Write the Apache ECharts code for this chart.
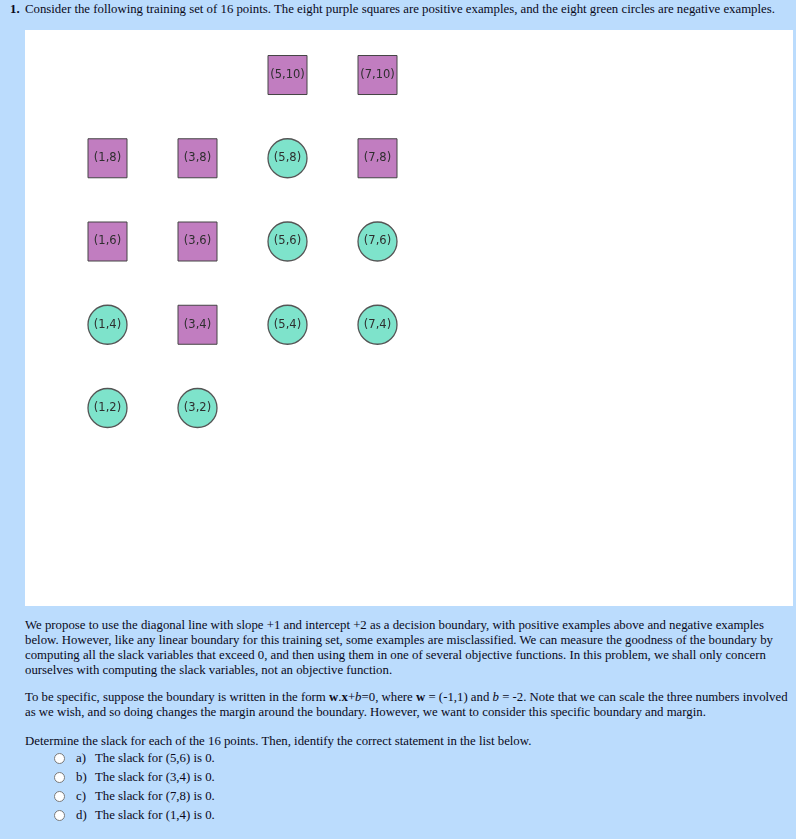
<!DOCTYPE html>
<html>
<head>
<meta charset="utf-8">
<script src="https://cdn.jsdelivr.net/npm/echarts@6/dist/echarts.min.js"></script>
<style>
  html, body { margin: 0; padding: 0; }
  body { width: 796px; height: 839px; background: #bbdcfd; font-family: "Liberation Serif", serif; font-size: 12.8px; color: #0a0a1a; position: relative; overflow: hidden; }
  .blk { position: absolute; left: 25px; line-height: 15px; white-space: nowrap; }
  #panel { position: absolute; left: 25px; top: 30px; width: 768px; height: 576px; background: #fff; }
  .opt { position: absolute; left: 0; line-height: 15px; white-space: nowrap; }
  .radio { position: absolute; width: 9px; height: 9px; border: 1px solid #7a7a7a; border-radius: 50%; background: #fff; }
</style>
</head>
<body>
<div class="blk" style="left:10px; top:2px;"><b>1.</b></div>
<div class="blk" style="top:2px;">Consider the following training set of 16 points. The eight purple squares are positive examples, and the eight green circles are negative examples.</div>
<div id="panel"></div>
<div class="blk" style="top:618px;">We propose to use the diagonal line with slope +1 and intercept +2 as a decision boundary, with positive examples above and negative examples<br>below. However, like any linear boundary for this training set, some examples are misclassified. We can measure the goodness of the boundary by<br>computing all the slack variables that exceed 0, and then using them in one of several objective functions. In this problem, we shall only concern<br>ourselves with computing the slack variables, not an objective function.</div>
<div class="blk" style="top:690px;">To be specific, suppose the boundary is written in the form <b>w</b>.<b>x</b>+<i>b</i>=0, where <b>w</b> = (-1,1) and <i>b</i> = -2. Note that we can scale the three numbers involved<br>as we wish, and so doing changes the margin around the boundary. However, we want to consider this specific boundary and margin.</div>
<div class="blk" style="top:734px;">Determine the slack for each of the 16 points. Then, identify the correct statement in the list below.</div>
<div id="opts"></div>
<script>
const positivePoints = [[5,10],[7,10],[1,8],[3,8],[7,8],[1,6],[3,6],[3,4]];
const negativePoints = [[5,8],[5,6],[7,6],[1,4],[5,4],[7,4],[1,2],[3,2]];
const optionLetters = ['a)', 'b)', 'c)', 'd)'];
const optionTexts = ['The slack for (5,6) is 0.', 'The slack for (3,4) is 0.', 'The slack for (7,8) is 0.', 'The slack for (1,4) is 0.'];

const opts = document.getElementById('opts');
optionTexts.forEach((t, i) => {
  const cy = 758 + i * 19;
  const r = document.createElement('span');
  r.className = 'radio';
  r.style.left = '54px';
  r.style.top = (cy - 5) + 'px';
  opts.appendChild(r);
  const l = document.createElement('span');
  l.className = 'opt';
  l.style.left = '76px';
  l.style.top = (cy - 7.5) + 'px';
  l.textContent = optionLetters[i];
  opts.appendChild(l);
  const s = document.createElement('span');
  s.className = 'opt';
  s.style.left = '95px';
  s.style.top = (cy - 7.5) + 'px';
  s.textContent = t;
  opts.appendChild(s);
});

const chart = echarts.init(document.getElementById('panel'), null, { renderer: 'canvas' });
const lbl = {
  show: true, position: 'inside',
  formatter: p => '(' + p.value[0] + ',' + p.value[1] + ')',
  color: '#2e2e2e', fontFamily: 'DejaVu Sans', fontSize: 11.5
};
chart.setOption({
  animation: false,
  backgroundColor: '#fff',
  grid: { left: 37.5, right: 10.5, top: 3.4, bottom: 114.75 },
  xAxis: { type: 'value', min: 0, max: 16, show: false },
  yAxis: { type: 'value', min: 0, max: 11, show: false },
  series: [
    { type: 'scatter', data: positivePoints, symbol: 'rect', symbolSize: 39,
      itemStyle: { color: '#c17dc0', borderColor: '#444', borderWidth: 1, opacity: 1 }, label: lbl },
    { type: 'scatter', data: negativePoints, symbol: 'circle', symbolSize: 39,
      itemStyle: { color: '#7ee3cb', borderColor: '#555', borderWidth: 1.3, opacity: 1 }, label: lbl }
  ]
});
</script>
</body>
</html>
